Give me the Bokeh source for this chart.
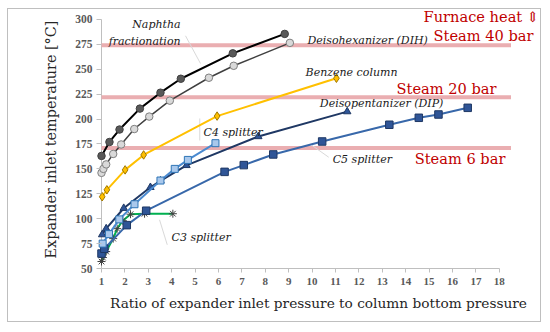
from bokeh.plotting import figure
from bokeh.models import Range1d, FixedTicker, Label
from bokeh.embed import file_html
from bokeh.resources import INLINE

# ---------------- data ----------------
naphtha_x = [1.0, 1.34, 1.77, 2.64, 3.52, 4.39, 6.61, 8.83]
naphtha_y = [163, 177, 189.5, 210.5, 226.5, 240.5, 266, 285.5]

dih_x = [1.0, 1.08, 1.2, 1.5, 1.84, 2.4, 3.04, 3.92, 5.59, 6.65, 9.05]
dih_y = [146, 150, 154.5, 165, 174.5, 190, 202.5, 218.5, 241.5, 253.5, 276.5]

benzene_x = [1.03, 1.23, 2.01, 2.8, 5.94, 11.04]
benzene_y = [122, 129, 149, 164, 203, 241]

dip_x = [1.03, 1.2, 1.95, 3.09, 3.52, 4.63, 7.7, 11.5]
dip_y = [84, 90, 110.5, 131.5, 138, 153.5, 182.5, 207.5]

c4_x = [1.05, 1.32, 1.76, 2.41, 3.52, 4.13, 4.69, 5.87]
c4_y = [75, 84.5, 99.3, 114.5, 138.3, 150, 159, 175.8]

c5_x = [1.0, 1.12, 2.08, 2.91, 6.26, 7.08, 8.34, 10.43, 13.3, 14.56, 15.4, 16.65]
c5_y = [65, 69.8, 93.5, 108, 147, 153.8, 164.5, 177.5, 194.3, 201.3, 204.6, 211.3]

c3_x = [1.0, 1.06, 1.2, 1.5, 1.67, 1.91, 2.24, 2.84, 4.05]
c3_y = [57, 61, 67, 80, 90, 98, 104.5, 105, 105]

steam_temps = [274, 222, 171]
steam_labels = ["Steam 40 bar", "Steam 20 bar", "Steam 6 bar"]
steam_x_from = 1
steam_x_to = 18.5

x_ticks = list(range(1, 19))
y_ticks = [50, 75, 100, 125, 150, 175, 200, 225, 250, 275, 300]

# ---------------- figure ----------------
SERIF = "DejaVu Serif"

p = figure(width=534, height=314, output_backend="svg", toolbar_location=None,
           x_range=Range1d(0.7863, 19.761), y_range=Range1d(50, 309.0),
           min_border_left=88, min_border_right=2, min_border_top=1, min_border_bottom=55)
p.styles = {"margin-left": "7px", "margin-top": "8px", "border": "1px solid #BFBFBF"}
p.background_fill_color = "white"
p.border_fill_color = "white"
p.outline_line_color = None
p.xgrid.visible = False
p.ygrid.visible = False

# x axis
xa = p.xaxis[0]
xa.ticker = FixedTicker(ticks=x_ticks)
xa.bounds = (x_ticks[0], x_ticks[-1])
xa.axis_line_color = "#BFBFBF"
xa.major_tick_line_color = "#BFBFBF"
xa.major_tick_out = 4
xa.major_tick_in = 0
xa.minor_tick_line_color = None
xa.major_label_standoff = 5
xa.major_label_text_font = "Liberation Serif"
xa.major_label_text_font_style = "bold"
xa.major_label_text_font_size = "11px"
xa.major_label_text_color = "#595959"
xa.axis_label = "Ratio of expander inlet pressure to column bottom pressure"
xa.axis_label_text_font = SERIF
xa.axis_label_text_font_style = "normal"
xa.axis_label_text_font_size = "13.7px"
xa.axis_label_text_color = "#262626"
xa.axis_label_standoff = 7

# y axis (drawn at frame edge; ticks inward reach x=1 line)
ya = p.yaxis[0]
ya.ticker = FixedTicker(ticks=y_ticks)
ya.bounds = (y_ticks[0], y_ticks[-1])
ya.axis_line_color = None
ya.major_tick_line_color = "#BFBFBF"
ya.major_tick_out = 0
ya.major_tick_in = 5
ya.minor_tick_line_color = None
ya.major_label_standoff = 4
ya.major_label_text_font = "Liberation Serif"
ya.major_label_text_font_style = "bold"
ya.major_label_text_font_size = "11.5px"
ya.major_label_text_color = "#595959"
ya.axis_label = "Expander inlet temperature [°C]"
ya.axis_label_text_font = SERIF
ya.axis_label_text_font_style = "normal"
ya.axis_label_text_font_size = "14.4px"
ya.axis_label_text_color = "#262626"
ya.axis_label_standoff = 13

# y axis line at x = 1
p.segment(x0=[x_ticks[0]], y0=[y_ticks[0]], x1=[x_ticks[0]], y1=[y_ticks[-1]],
          line_color="#BFBFBF", line_width=1)

# steam level lines
p.segment(x0=[steam_x_from] * 3, x1=[steam_x_to] * 3, y0=steam_temps, y1=steam_temps,
          line_color="#EAAEB1", line_width=4)

# leader lines (faint)
p.segment(x0=[4.59, 3.48, 10.0, 5.2], y0=[283.6, 98.9, 173.5, 200.6],
          x1=[5.23, 3.81, 10.71, 5.2], y1=[255.8, 73.8, 161.7, 178.5],
          line_color="#D9D9D9", line_width=1)

# ---------------- series ----------------
p.line(c3_x, c3_y, line_color="#00B050", line_width=2)
p.scatter(c3_x, c3_y, marker="asterisk", size=8, line_color="#404040", line_width=1)

p.line(c5_x, c5_y, line_color="#3868AA", line_width=2)
p.scatter(c5_x, c5_y, marker="square", size=7.5, fill_color="#2F5597",
          line_color="#1F3864", line_width=1)

p.line(dip_x, dip_y, line_color="#1F3864", line_width=2)
p.scatter(dip_x, dip_y, marker="triangle", size=7.5, fill_color="#2F5597",
          line_color="#1F3864", line_width=1)

p.line(c4_x, c4_y, line_color="#4A8AD0", line_width=2)
p.scatter(c4_x, c4_y, marker="square", size=7, fill_color="#A9C8EC",
          line_color="#2E75B6", line_width=1)

p.line(benzene_x, benzene_y, line_color="#FFC000", line_width=2)
p.scatter(benzene_x, benzene_y, marker="diamond", size=8.5, fill_color="#FFC000",
          line_color="#A07800", line_width=1)

p.line(dih_x, dih_y, line_color="#404040", line_width=1.5)
p.scatter(dih_x, dih_y, marker="circle", size=7.5, fill_color="#D9D9D9",
          line_color="#7F7F7F", line_width=1)

p.line(naphtha_x, naphtha_y, line_color="#000000", line_width=2)
p.scatter(naphtha_x, naphtha_y, marker="circle", size=7.5, fill_color="#595959",
          line_color="#404040", line_width=1)

# ---------------- labels ----------------
def ital(x, y, text, align="left"):
    p.add_layout(Label(x=x, y=y, text=text, text_font=SERIF, text_font_style="italic",
                       text_font_size="11px", text_color="#1A1A1A",
                       text_align=align, text_baseline="alphabetic"))

ital(4.38, 294.5, "Naphtha", "right")
ital(4.38, 278.0, "fractionation", "right")
ital(9.80, 278.9, "Deisohexanizer (DIH)")
ital(9.72, 247.1, "Benzene column")
ital(10.33, 215.4, "Deisopentanizer (DIP)")
ital(5.36, 186.9, "C4 splitter")
ital(10.88, 159.4, "C5 splitter")
ital(3.99, 81.1, "C3 splitter")

# red labels, right-aligned
red_pos = [(19.46, 284.4), (17.88, 230.2), (18.26, 160.9)]
for (lx, ly), txt in zip(red_pos, steam_labels):
    p.add_layout(Label(x=lx, y=ly, text=txt, text_font=SERIF, text_font_size="14.6px",
                       text_color="#C00000", text_align="right", text_baseline="middle"))
p.add_layout(Label(x=19.70, y=303, text="Furnace heat \u21d5", text_font=SERIF,
                   text_font_size="14.6px", text_color="#C00000",
                   text_align="right", text_baseline="middle"))

open("out.html", "w").write(file_html(p, INLINE))
